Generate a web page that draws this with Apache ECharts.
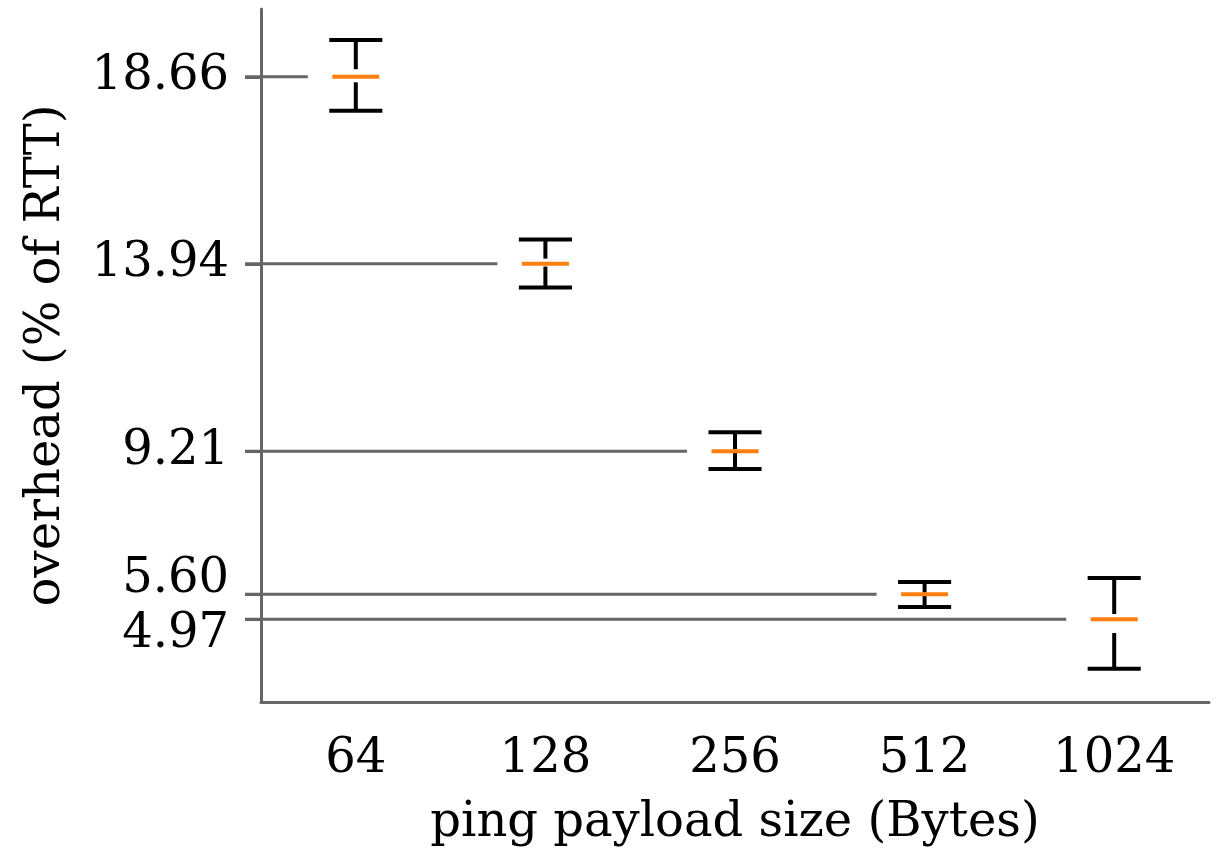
<!DOCTYPE html>
<html lang="en">
<head>
    <meta charset="UTF-8">
    <title>ping overhead</title>
    <style>
        html, body { margin: 0; padding: 0; background: #fff; }
        #main { width: 1217px; height: 848px; }
    </style>
</head>
<body>
    <div id="main"></div>
    <script src="https://cdn.jsdelivr.net/npm/echarts@6/dist/echarts.min.js"></script>
    <script>
        // payload sizes and the overhead stats
        var categories = ['64', '128', '256', '512', '1024'];
        var whiskerLow = [17.80, 13.34, 8.76, 5.28, 3.72];
        var q1 = [18.52, 13.87, 9.17, 5.57, 4.62];
        var medians = [18.66, 13.94, 9.21, 5.60, 4.97];
        var q3 = [18.85, 14.07, 9.26, 5.64, 5.10];
        var whiskerHigh = [19.59, 14.55, 9.69, 5.91, 6.01];

        var gray = '#666666';
        var font = 'DejaVu Serif';

        var rows = [];
        for (var i = 0; i < categories.length; i++) {
            rows.push([i, whiskerLow[i], q1[i], medians[i], q3[i], whiskerHigh[i]]);
        }

        function renderItem(params, api) {
            var idx = api.value(0);
            var bw = api.size([1, 0])[0];
            var cx = api.coord([idx, 0])[0];
            var yLow = api.coord([idx, api.value(1)])[1];
            var yQ1 = api.coord([idx, api.value(2)])[1];
            var yMed = api.coord([idx, api.value(3)])[1];
            var yQ3 = api.coord([idx, api.value(4)])[1];
            var yHigh = api.coord([idx, api.value(5)])[1];
            // start a tick length left of the y axis, like the reference
            var left = params.coordSys.x - 16;
            var capW = bw * 0.14;
            var medW = bw * 0.124;
            var black = { stroke: '#000', lineWidth: 4 };
            return {
                type: 'group',
                children: [
                    { type: 'line', shape: { x1: left, y1: yMed, x2: cx - bw * 0.253, y2: yMed },
                      style: { stroke: gray, lineWidth: 3 } },
                    { type: 'line', shape: { x1: cx, y1: yHigh, x2: cx, y2: yQ3 }, style: black },
                    { type: 'line', shape: { x1: cx, y1: yQ1, x2: cx, y2: yLow }, style: black },
                    { type: 'line', shape: { x1: cx - capW, y1: yHigh, x2: cx + capW, y2: yHigh }, style: black },
                    { type: 'line', shape: { x1: cx - capW, y1: yLow, x2: cx + capW, y2: yLow }, style: black },
                    { type: 'line', shape: { x1: cx - medW, y1: yMed, x2: cx + medW, y2: yMed },
                      style: { stroke: '#ff7f0e', lineWidth: 4 } }
                ]
            };
        }

        var myChart = echarts.init(document.getElementById('main'));

        var option = {
            animation: false,
            backgroundColor: '#fff',
            grid: { left: 261, right: 8, top: 9, bottom: 146, outerBoundsMode: 'none', containLabel: false },
            xAxis: {
                type: 'category',
                data: categories,
                name: 'ping payload size (Bytes)',
                nameLocation: 'middle',
                nameGap: 98,
                nameTextStyle: { fontFamily: font, fontSize: 48, color: '#000' },
                axisLine: { lineStyle: { color: gray, width: 3 } },
                axisTick: { alignWithLabel: true, length: 15, lineStyle: { color: gray, width: 3 } },
                axisLabel: { fontFamily: font, fontSize: 48, color: '#000', margin: 34 },
                splitLine: { show: false }
            },
            yAxis: {
                type: 'value',
                min: 2.88,
                max: 20.37,
                name: 'overhead (% of RTT)',
                nameLocation: 'middle',
                nameGap: 190,
                nameTextStyle: { fontFamily: font, fontSize: 48, color: '#000' },
                axisLine: { show: true, lineStyle: { color: gray, width: 3 } },
                axisTick: {
                    show: true,
                    customValues: medians,
                    length: 16,
                    lineStyle: { color: gray, width: 3 }
                },
                axisLabel: {
                    customValues: medians,
                    fontFamily: font,
                    fontSize: 48,
                    color: '#000',
                    margin: 32,
                    formatter: function (v) {
                        var s = v.toFixed(2);
                        if (Math.abs(v - 5.60) < 1e-6) return '{up|' + s + '}';
                        if (Math.abs(v - 4.97) < 1e-6) return '{down|' + s + '}';
                        return s;
                    },
                    rich: {
                        up: { fontFamily: font, fontSize: 48, color: '#000', padding: [0, 0, 30, 0] },
                        down: { fontFamily: font, fontSize: 48, color: '#000', padding: [31, 0, 0, 0] }
                    }
                },
                splitLine: { show: false }
            },
            series: [{
                type: 'custom',
                renderItem: renderItem,
                data: rows,
                encode: { x: 0, y: [1, 2, 3, 4, 5] },
                clip: false
            }]
        };

        myChart.setOption(option);
    </script>
</body>
</html>
